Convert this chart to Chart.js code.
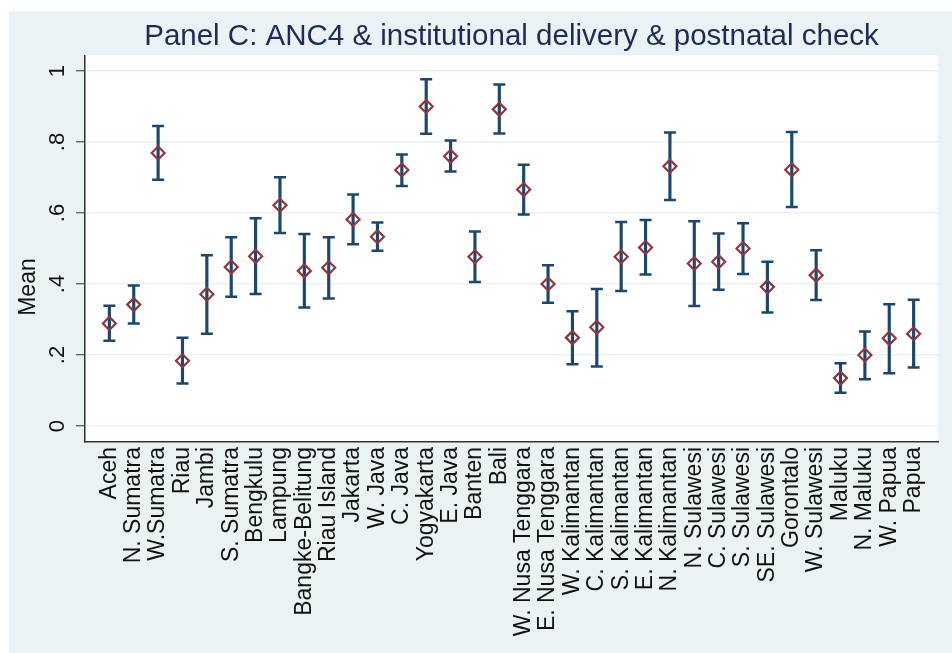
<!DOCTYPE html>
<html>
<head>
<meta charset="utf-8">
<script src="https://cdn.jsdelivr.net/npm/chart.js@4.4.1/dist/chart.umd.min.js"></script>
<style>
  html, body { margin: 0; padding: 0; background: #fff; }
</style>
</head>
<body>
<canvas id="chart" width="952" height="653"></canvas>
<script>
const provinces = [
  "Aceh", "N. Sumatra", "W.Sumatra", "Riau", "Jambi", "S. Sumatra", "Bengkulu",
  "Lampung", "Bangke-Belitung", "Riau Island", "Jakarta", "W. Java", "C. Java",
  "Yogyakarta", "E. Java", "Banten", "Bali", "W. Nusa Tenggara", "E. Nusa Tenggara",
  "W. Kalimantan", "C. Kalimantan", "S. Kalimantan", "E. Kalimantan", "N. Kalimantan",
  "N. Sulawesi", "C. Sulawesi", "S. Sulawesi", "SE. Sulawesi", "Gorontalo",
  "W. Sulawesi", "Maluku", "N. Maluku", "W. Papua", "Papua"
];
const means = [
  0.289, 0.342, 0.769, 0.184, 0.371, 0.448, 0.478, 0.622, 0.437, 0.446, 0.582, 0.533,
  0.721, 0.900, 0.760, 0.477, 0.892, 0.666, 0.400, 0.249, 0.278, 0.477, 0.503, 0.732,
  0.458, 0.463, 0.500, 0.392, 0.722, 0.425, 0.135, 0.200, 0.247, 0.260
];
const upper = [
  0.339, 0.396, 0.845, 0.249, 0.481, 0.532, 0.585, 0.701, 0.541, 0.532, 0.652, 0.573,
  0.765, 0.977, 0.804, 0.548, 0.962, 0.736, 0.453, 0.323, 0.386, 0.575, 0.580, 0.827,
  0.577, 0.542, 0.571, 0.463, 0.828, 0.495, 0.177, 0.266, 0.343, 0.356
];
const lower = [
  0.240, 0.289, 0.694, 0.120, 0.260, 0.364, 0.372, 0.544, 0.334, 0.359, 0.512, 0.494,
  0.676, 0.823, 0.717, 0.406, 0.824, 0.596, 0.347, 0.174, 0.168, 0.380, 0.427, 0.637,
  0.338, 0.384, 0.428, 0.320, 0.617, 0.355, 0.094, 0.132, 0.149, 0.165
];
const yTicks = [0, 0.2, 0.4, 0.6, 0.8, 1];
const yTickLabels = ["0", ".2", ".4", ".6", ".8", "1"];

const FONT = "'Liberation Sans', Arial, sans-serif";
const NAVY = "#1a476f";
const RED = "#90353b";

// stata-like background: white edge, bluish graph region, white plot region
const backdrop = {
  id: "backdrop",
  beforeDraw(chart) {
    const { ctx, chartArea: a } = chart;
    ctx.save();
    ctx.fillStyle = "#fff";
    ctx.fillRect(0, 0, chart.width, chart.height);
    ctx.fillStyle = "#eaf2f3";
    ctx.fillRect(9, 11, chart.width - 9, chart.height - 11);
    ctx.fillStyle = "#fff";
    ctx.fillRect(a.left, a.top, a.right - a.left, a.bottom - a.top);
    ctx.restore();
  },
};

new Chart(document.getElementById("chart"), {
  type: "scatter",
  data: {
    datasets: [
      {
        label: "Mean",
        data: means.map((v, i) => ({ x: i, y: v })),
        pointStyle: "rectRot",
        pointRadius: 6.5,
        borderColor: RED,
        backgroundColor: "rgba(0,0,0,0)",
        borderWidth: 2.2,
      },
      {
        label: "upper",
        data: upper.map((v, i) => ({ x: i, y: v })),
        pointStyle: "line",
        pointRadius: 6,
        borderColor: NAVY,
        borderWidth: 2.5,
      },
      {
        label: "lower",
        data: lower.map((v, i) => ({ x: i, y: v })),
        pointStyle: "line",
        pointRadius: 6,
        borderColor: NAVY,
        borderWidth: 2.5,
      },
      {
        type: "bar",
        label: "CI",
        data: lower.map((v, i) => ({ x: i, y: [v, upper[i]] })),
        backgroundColor: NAVY,
        barThickness: 2.5,
        borderWidth: 0,
      },
    ],
  },
  options: {
    responsive: false,
    animation: false,
    events: [],
    layout: { padding: { left: 9, right: 14, top: 0, bottom: 0 } },
    plugins: {
      legend: { display: false },
      tooltip: { enabled: false },
      title: {
        display: true,
        fullSize: false,
        text: "Panel C: ANC4 & institutional delivery & postnatal check",
        color: "#1c2b57",
        font: { family: FONT, size: 29.5, weight: "normal", lineHeight: 1.2 },
        padding: { top: 19, bottom: 1 },
      },
    },
    scales: {
      x: {
        type: "linear",
        min: -1,
        max: 34,
        offset: false,
        afterBuildTicks: (s) => {
          s.ticks = provinces.map((_, i) => ({ value: i }));
        },
        afterFit: (s) => {
          s.height = 211;
        },
        ticks: {
          autoSkip: false,
          minRotation: 90,
          maxRotation: 90,
          padding: 5,
          color: "#111",
          font: { family: FONT, size: 23 },
          callback: (v) => provinces[v],
        },
        grid: { display: false, drawTicks: false },
        border: { color: "#333", width: 1.5 },
      },
      y: {
        min: -0.045,
        max: 1.044,
        afterBuildTicks: (s) => {
          s.ticks = yTicks.map((v) => ({ value: v }));
        },
        afterFit: (s) => {
          s.width = 76;
        },
        ticks: {
          autoSkip: false,
          minRotation: 90,
          maxRotation: 90,
          crossAlign: "center",
          padding: 9,
          color: "#111",
          font: { family: FONT, size: 22 },
          callback: (v, i) => yTickLabels[i],
        },
        grid: {
          color: "#eaf2f3",
          lineWidth: 1.5,
          tickColor: "#333",
          tickLength: 9,
          tickWidth: 1,
        },
        border: { color: "#333", width: 1.5 },
        title: {
          display: true,
          // trailing spaces push the word down to where the original sits
          text: "Mean            ",
          color: "#111",
          font: { family: FONT, size: 23 },
          padding: { top: 6, bottom: 0 },
        },
      },
    },
  },
  plugins: [backdrop],
});
</script>
</body>
</html>
